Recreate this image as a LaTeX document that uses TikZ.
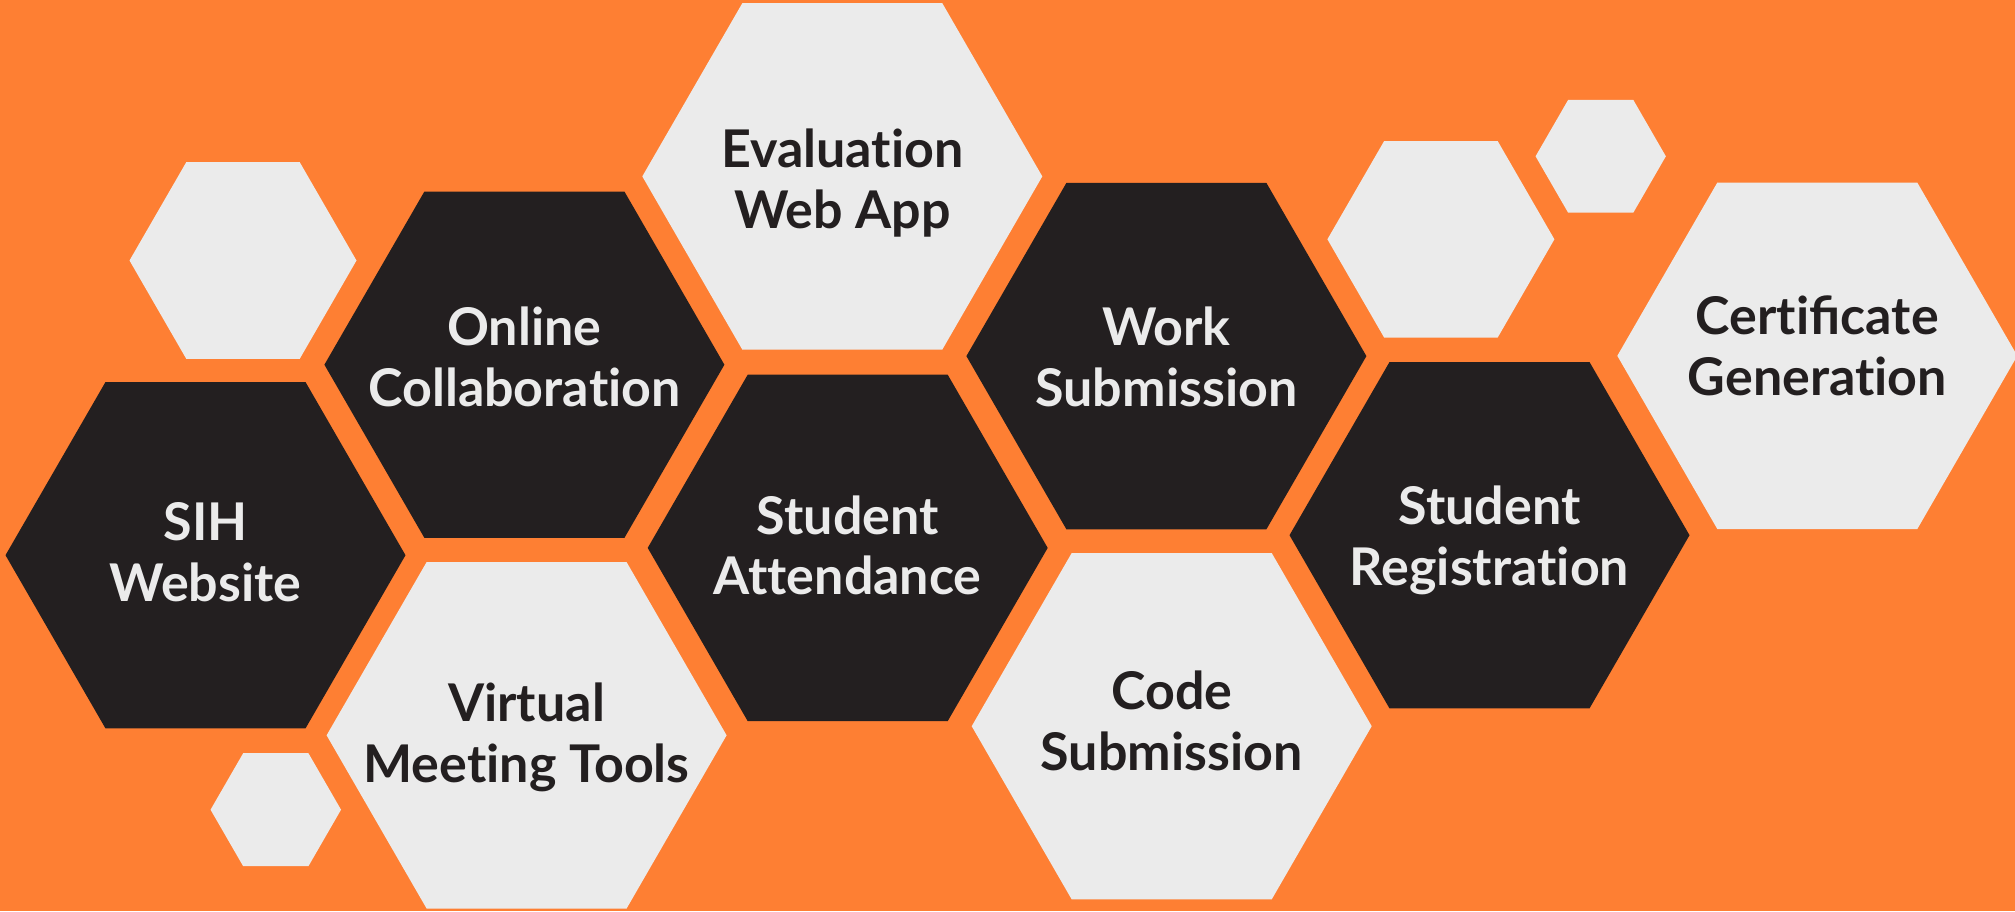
\documentclass[tikz,border=0pt]{standalone}
\usepackage{fontspec}
\setmainfont{Lato}[Ligatures=NoCommon]
\usetikzlibrary{shapes.geometric}
\definecolor{bgorange}{HTML}{FE7F33}
\definecolor{hexdark}{HTML}{231F20}
\definecolor{hexlight}{HTML}{EBEBEB}
\tikzset{
  hexa/.style={regular polygon, regular polygon sides=6, inner sep=0pt, outer sep=0pt, minimum size=#1},
  hexd/.style={hexa=#1, fill=hexdark},
  hexl/.style={hexa=#1, fill=hexlight},
  lbl/.style={align=center, font=\fontsize{52}{60.5}\selectfont\bfseries, inner sep=0pt, text height=100.5pt, text depth=13pt},
  lbld/.style={lbl, text=hexlight},
  lbll/.style={lbl, text=hexdark},
}
\begin{document}
\begin{tikzpicture}[x=1pt,y=-1pt]
\useasboundingbox (0,0) rectangle (2015,911);
\fill[bgorange] (0,0) rectangle (2015,911);
% decorative small hexagons
\node[hexl=227] (s1) at (243,260.5) {};
\node[hexl=130.5] (s2) at (275.8,809.7) {};
\node[hexl=227] (s3) at (1440.9,239.3) {};
\node[hexl=130.3] (s4) at (1600.7,156.3) {};
% main hexagons
\node[hexd=400] (online) at (524.4,364.7) {};
\node[hexd=400] (sih) at (205.5,555.2) {};
\node[hexl=400] (virtual) at (526.6,735.3) {};
\node[hexl=400] (eval) at (842.3,176.4) {};
\node[hexd=400] (attend) at (847.7,547.9) {};
\node[hexd=400] (work) at (1166.4,356.1) {};
\node[hexl=400] (code) at (1171.7,726.2) {};
\node[hexd=400] (reg) at (1489.5,535.2) {};
\node[hexl=400] (cert) at (1817.3,355.8) {};
% labels (centre = last baseline - 44)
\node[lbld] (tonline) at (524.4,362.4) {Online\\Collaboration};
\node[lbld] (tsih) at (205.5,557.6) {SIH\\Website};
\node[lbll] (tvirtual) at (526.6,738.3) {Virtual\\Meeting Tools};
\node[lbll] (teval) at (842.3,184.5) {Evaluation\\Web App};
\node[lbld] (tattend) at (847.7,551) {Student\\Attendance};
\node[lbld] (twork) at (1166.4,362.4) {Work\\Submission};
\node[lbll] (tcode) at (1171.7,726.7) {Code\\Submission};
\node[lbld] (treg) at (1489.5,541.5) {Student\\Registration};
\node[lbll] (tcert) at (1817.3,351.7) {Certiﬁcate\\Generation};
\end{tikzpicture}
\end{document}
